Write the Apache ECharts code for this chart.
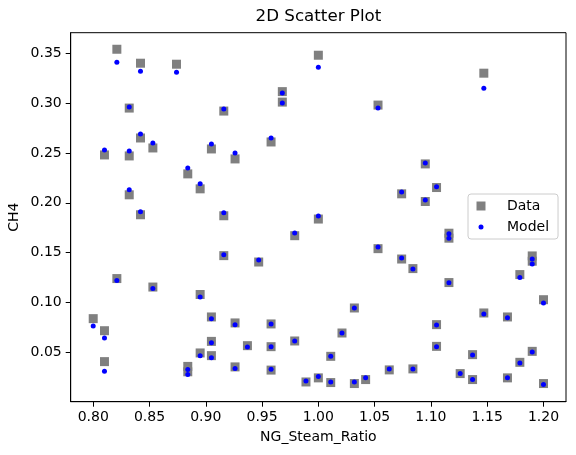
<!DOCTYPE html>
<html>
<head>
<meta charset="utf-8">
<script src="https://cdn.jsdelivr.net/npm/echarts@6/dist/echarts.min.js"></script>
<style>
  html, body { margin: 0; padding: 0; background: #fff; }
  #chart { width: 576px; height: 455px; }
</style>
</head>
<body>
<div id="chart"></div>
<script>
// NG_Steam_Ratio for each sample
const ratio = [
  0.800, 0.810, 0.810, 0.810, 0.821, 0.821, 0.832, 0.832, 0.832, 0.842,
  0.842, 0.842, 0.853, 0.853, 0.874, 0.884, 0.884, 0.884, 0.895, 0.895,
  0.895, 0.905, 0.905, 0.905, 0.905, 0.916, 0.916, 0.916, 0.926, 0.926,
  0.926, 0.937, 0.947, 0.958, 0.958, 0.958, 0.958, 0.968, 0.968, 0.979,
  0.979, 0.989, 1.000, 1.000, 1.000, 1.011, 1.011, 1.021, 1.032, 1.032,
  1.042, 1.053, 1.053, 1.063, 1.074, 1.074, 1.084, 1.084, 1.095, 1.095,
  1.105, 1.105, 1.105, 1.116, 1.116, 1.116, 1.126, 1.137, 1.137, 1.147,
  1.147, 1.168, 1.168, 1.179, 1.179, 1.190, 1.190, 1.190, 1.200, 1.200
];
// measured CH4
const ch4Data = [
  0.0838, 0.0717, 0.0407, 0.248, 0.354, 0.124, 0.295, 0.247, 0.208, 0.340,
  0.265, 0.188, 0.255, 0.1155, 0.339, 0.229, 0.0359, 0.0305, 0.214, 0.108,
  0.0494, 0.254, 0.0855, 0.061, 0.0467, 0.292, 0.187, 0.147, 0.244, 0.0795,
  0.0354, 0.0567, 0.1406, 0.261, 0.0785, 0.0557, 0.0322, 0.3115, 0.301, 0.167,
  0.0614, 0.0203, 0.348, 0.1837, 0.0244, 0.046, 0.0197, 0.0694, 0.0945, 0.0187,
  0.0227, 0.298, 0.154, 0.0324, 0.209, 0.1436, 0.134, 0.0334, 0.239, 0.2013,
  0.2153, 0.0778, 0.056, 0.1695, 0.1645, 0.120, 0.0287, 0.0477, 0.0227, 0.330,
  0.0895, 0.0855, 0.0244, 0.128, 0.040, 0.1467, 0.1414, 0.051, 0.1028, 0.0187
];
// model CH4
const ch4Model = [
  0.0765, 0.0645, 0.031, 0.253, 0.341, 0.122, 0.296, 0.252, 0.213, 0.332,
  0.269, 0.191, 0.260, 0.114, 0.331, 0.235, 0.0327, 0.0277, 0.219, 0.1055,
  0.0467, 0.259, 0.0838, 0.0597, 0.0447, 0.294, 0.190, 0.148, 0.250, 0.0778,
  0.0337, 0.0554, 0.1426, 0.265, 0.0785, 0.0557, 0.033, 0.310, 0.300, 0.1697,
  0.0614, 0.0213, 0.336, 0.1867, 0.0257, 0.046, 0.0203, 0.0694, 0.0945, 0.0203,
  0.0244, 0.295, 0.1556, 0.0334, 0.2107, 0.1446, 0.1335, 0.0334, 0.240, 0.2027,
  0.216, 0.0775, 0.0555, 0.169, 0.1645, 0.1198, 0.0287, 0.0474, 0.0227, 0.315,
  0.0885, 0.0848, 0.0244, 0.125, 0.0394, 0.1436, 0.1386, 0.0504, 0.0995, 0.0177
];
const xTicks = [0.80, 0.85, 0.90, 0.95, 1.00, 1.05, 1.10, 1.15, 1.20];
const yTicks = [0.05, 0.10, 0.15, 0.20, 0.25, 0.30, 0.35];

const font = 'DejaVu Sans';
const chart = echarts.init(document.getElementById('chart'), null, { renderer: 'canvas' });

function axisCommon(ticks) {
  return {
    type: 'value',
    splitLine: { show: false },
    axisLine: { onZero: false, lineStyle: { color: '#000', width: 1 } },
    axisTick: { customValues: ticks, length: 5, lineStyle: { color: '#000', width: 1 } },
    axisLabel: {
      customValues: ticks,
      formatter: function (v) { return v.toFixed(2); },
      color: '#000',
      fontSize: 14,
      fontFamily: font,
      margin: 9
    },
    nameMoveOverlap: false,
    nameTextStyle: { color: '#000', fontSize: 14, fontFamily: font }
  };
}

const xAxis = axisCommon(xTicks);
xAxis.min = 0.78;
xAxis.max = 1.22;
xAxis.name = 'NG_Steam_Ratio';
xAxis.nameLocation = 'middle';
xAxis.nameGap = 29;

const yAxis = axisCommon(yTicks);
yAxis.min = 0.0005;
yAxis.max = 0.3706;
yAxis.name = 'CH4';
yAxis.nameLocation = 'middle';
yAxis.nameGap = 49;

// legend icons inside a 10x10 box so they keep their size
const squareIcon = 'path://M0,0M10,10M0.5,0.5L9.5,0.5L9.5,9.5L0.5,9.5Z';
const dotIcon = 'path://M0,0M10,10M7.5,5A2.5,2.5,0,1,1,2.5,5A2.5,2.5,0,1,1,7.5,5Z';

chart.setOption({
  animation: false,
  grid: {
    left: 70.7, right: 10, top: 32.7, bottom: 53.3,
    show: true, borderColor: '#000', borderWidth: 1,
    outerBoundsMode: 'none'
  },
  graphic: [{
    type: 'text',
    x: 318.4, y: 17,
    style: {
      text: '2D Scatter Plot',
      fill: '#000',
      font: '16.7px "DejaVu Sans"',
      textAlign: 'center',
      textVerticalAlign: 'middle'
    }
  }],
  legend: {
    orient: 'vertical',
    left: 468, top: 194,
    padding: [5, 9, 5, 8],
    itemWidth: 22, itemHeight: 10, itemGap: 7,
    borderColor: '#cccccc', borderWidth: 1, borderRadius: 3,
    backgroundColor: 'rgba(255,255,255,0.8)',
    textStyle: { color: '#000', fontSize: 14, fontFamily: font, padding: [0, 0, 0, 10] },
    data: [
      { name: 'Data', icon: squareIcon },
      { name: 'Model', icon: dotIcon }
    ]
  },
  xAxis: xAxis,
  yAxis: yAxis,
  series: [
    {
      name: 'Data',
      type: 'scatter',
      symbol: 'rect',
      symbolSize: 9,
      itemStyle: { color: '#808080', opacity: 1 },
      emphasis: { disabled: true },
      data: ratio.map(function (x, i) { return [x, ch4Data[i]]; }),
      z: 2
    },
    {
      name: 'Model',
      type: 'scatter',
      symbol: 'circle',
      symbolSize: 5,
      itemStyle: { color: '#0000ff', opacity: 1 },
      emphasis: { disabled: true },
      data: ratio.map(function (x, i) { return [x, ch4Model[i]]; }),
      z: 3
    }
  ]
});
</script>
</body>
</html>
